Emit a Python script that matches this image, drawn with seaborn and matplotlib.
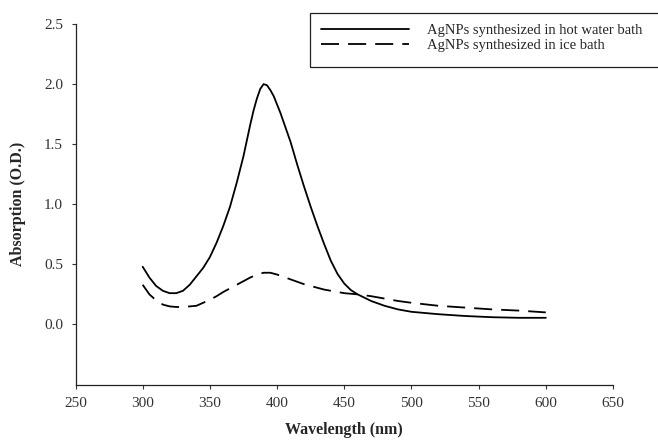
import numpy as np
import pandas as pd
import seaborn as sns
import matplotlib.pyplot as plt
from matplotlib.patches import Rectangle
from matplotlib.lines import Line2D

hot_wl = [300, 305, 310, 315, 320, 325, 330, 335, 340, 345,
          350, 355, 360, 365, 370, 375, 377.5, 380, 382.5, 385,
          387.5, 390, 392.5, 395, 397.5, 400, 402.5, 405, 410, 415,
          420, 425, 430, 435, 440, 445, 450, 455, 460, 470,
          480, 490, 500, 520, 540, 560, 580, 600]
hot_bath = [0.48, 0.39, 0.32, 0.28, 0.26, 0.26, 0.28, 0.33, 0.40, 0.47,
            0.56, 0.68, 0.82, 0.98, 1.18, 1.40, 1.53, 1.66, 1.78, 1.88,
            1.96, 2.00, 1.99, 1.95, 1.90, 1.83, 1.76, 1.68, 1.52, 1.33,
            1.15, 0.98, 0.82, 0.67, 0.53, 0.42, 0.34, 0.285, 0.25, 0.195,
            0.155, 0.125, 0.105, 0.085, 0.07, 0.06, 0.055, 0.055]
ice_wl = [300, 305, 310, 315, 320, 325, 330, 335, 340, 345,
          350, 355, 360, 365, 370, 375, 380, 385, 390, 395,
          400, 405, 410, 415, 420, 425, 430, 435, 440, 445,
          450, 455, 460, 470, 480, 490, 500, 520, 540, 560,
          580, 600]
ice_bath = [0.33, 0.25, 0.20, 0.165, 0.15, 0.145, 0.145, 0.15, 0.155, 0.18,
            0.205, 0.235, 0.27, 0.30, 0.33, 0.36, 0.39, 0.415, 0.43, 0.43,
            0.415, 0.395, 0.375, 0.355, 0.335, 0.32, 0.305, 0.29, 0.28, 0.27,
            0.26, 0.255, 0.25, 0.235, 0.215, 0.195, 0.18, 0.155, 0.14, 0.125,
            0.115, 0.10]
labels = ["AgNPs synthesized in hot water bath", "AgNPs synthesized in ice bath"]
x_ticks = [250, 300, 350, 400, 450, 500, 550, 600, 650]
y_ticks = [0.0, 0.5, 1.0, 1.5, 2.0, 2.5]

df = pd.DataFrame({
    "wavelength": hot_wl + ice_wl,
    "absorption": hot_bath + ice_bath,
    "sample": [labels[0]] * len(hot_wl) + [labels[1]] * len(ice_wl),
})

sns.set_style("ticks")
plt.rcParams["font.family"] = ["Liberation Serif", "DejaVu Serif"]

fig = plt.figure(figsize=(6.58, 4.41), dpi=100)
ax = fig.add_axes([75.5 / 658, 1 - 384.5 / 441, (613 - 75.5) / 658, (384.5 - 24) / 441])

styles = {labels[0]: "", labels[1]: (10, 5)}
sns.lineplot(data=df, x="wavelength", y="absorption", style="sample",
             dashes=styles, color="black", linewidth=1.3, legend=False, ax=ax)

ax.set_xlim(250, 650)
ax.set_ylim(-0.5, 2.5)
ax.set_xticks(x_ticks)
ax.set_yticks(y_ticks)
ax.set_yticklabels([f"{v:.1f}" for v in y_ticks])
ax.tick_params(direction="out", length=3, width=0.8, labelsize=11,
               colors="#333333", pad=6)
for s in ["left", "bottom"]:
    ax.spines[s].set_linewidth(0.9)
    ax.spines[s].set_color("#222222")
sns.despine(ax=ax)

ax.set_xlabel("Wavelength (nm)", fontsize=11.5, fontweight="bold", labelpad=9)
ax.set_ylabel("Absorption (O.D.)", fontsize=11.5, fontweight="bold", labelpad=13)

# legend box runs past the right edge in the original
fig.patches.append(Rectangle((310 / 658, 1 - 67 / 441), 360 / 658, 54 / 441,
                             transform=fig.transFigure, fill=False,
                             edgecolor="#222222", linewidth=0.9))
handles = [Line2D([], [], color="black", lw=1.3),
           Line2D([], [], color="black", lw=1.3, dashes=(10, 5))]
fig.legend(handles, labels, loc="upper left",
           bbox_to_anchor=(321 / 658, 1 - 24 / 441), frameon=False,
           fontsize=10.5, handlelength=6.0, handletextpad=1.3,
           labelspacing=0.1, borderpad=0, borderaxespad=0)

fig.savefig("out.png", dpi=100)
